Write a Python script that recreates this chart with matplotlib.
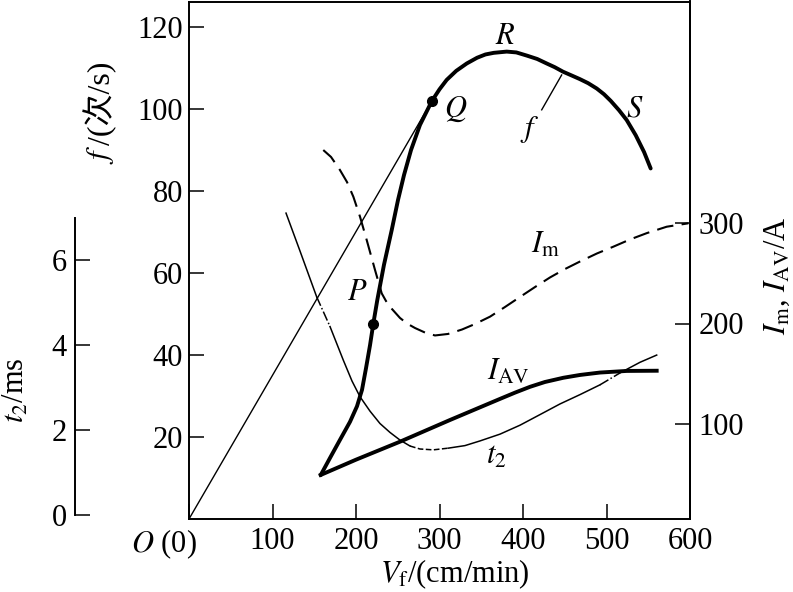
import matplotlib
matplotlib.use('Agg')
import matplotlib.pyplot as plt

# ---------------- data ----------------
# f curve (left axis, f / (次/s)) versus V_f (cm/min)
f_x = [157.7, 168.9, 180.8, 192.8, 201.2, 207.2, 212.0, 216.8, 220.7, 225.5, 233.5,
       242.8, 250.3, 257.5, 265.9, 276.6, 291.0, 300.0, 308.6, 320.0, 332.6, 345.0,
       355.0, 365.0, 380.5, 392.0, 405.0, 417.0, 428.4, 438.0, 447.9, 458.0, 468.0,
       478.0, 488.3, 497.0, 505.0, 515.0, 524.2, 535.0, 545.0, 552.9]
f_y = [10.7, 14.9, 19.3, 23.7, 27.5, 31.5, 36.8, 42.4, 47.6, 53.4, 62.0,
       70.5, 77.8, 83.9, 90.0, 96.1, 102.0, 104.8, 107.1, 109.3, 111.1, 112.5,
       113.3, 113.7, 114.0, 113.8, 113.0, 112.2, 111.1, 110.2, 109.1, 108.2, 107.3,
       106.3, 105.0, 103.6, 102.0, 99.7, 97.3, 93.6, 89.5, 85.5]

# marked points P and Q on the f curve
P_x, P_y = 220.7, 47.6
Q_x, Q_y = 291.0, 102.0

# straight line from origin O to Q
chord_x = [0, 291.0]
chord_y = [0, 102.0]

# I_AV (right axis, A)
iav_x = [157.7, 200.0, 252.7, 312.6, 372.5, 390.4, 408.4, 426.3, 448.3, 468.3,
         492.2, 524.2, 560.1]
iav_y = [49.3, 64.5, 82.4, 104.0, 125.0, 131.2, 137.0, 141.8, 146.0, 148.8,
         151.2, 152.8, 153.0]

# I_m (right axis, A), dashed
im_x = [160.8, 170.1, 180.8, 189.2, 196.8, 204.8, 212.8, 222.8, 230.8, 235.9, 243.1,
        252.7, 261.1, 270.7, 282.6, 294.6, 310.2, 326.9, 342.5, 360.5, 378.4, 396.4,
        414.4, 432.3, 450.3, 468.3, 488.6, 508.1, 528.1, 548.5, 572.1, 598.0]
im_y = [372.6, 365.7, 352.7, 340.8, 326.2, 306.3, 283.1, 253.2, 230.0, 222.4, 214.4,
        205.5, 200.0, 195.5, 191.0, 188.1, 189.6, 194.0, 199.5, 206.8, 216.4, 226.4,
        236.3, 245.8, 254.2, 261.7, 269.7, 276.4, 283.6, 290.0, 296.3, 299.7]

# t2 (outer left axis, ms)
t2_x = [116.2, 132.9, 152.9, 168.9, 184.8, 195.2, 204.8, 216.8, 228.7, 240.7, 252.7,
        264.7, 276.6, 292.6, 310.5, 330.5, 348.5, 372.5, 396.4, 420.4, 444.3, 468.3,
        492.2, 516.2, 540.1, 560.1]
t2_y = [7.11, 6.22, 5.14, 4.44, 3.65, 3.16, 2.79, 2.45, 2.16, 1.95, 1.77,
        1.63, 1.56, 1.54, 1.58, 1.64, 1.75, 1.91, 2.12, 2.37, 2.62, 2.84,
        3.07, 3.35, 3.60, 3.77]
# line-style pieces of the t2 curve (index ranges, inclusive)
t2_pieces = [(0, 2, '-'), (2, 3, '-.'), (3, 11, '-'), (11, 14, '--'),
             (14, 22, '-'), (22, 23, '-.'), (23, 25, '-')]

x_ticks = [0, 100, 200, 300, 400, 500, 600]
x_ticklabels = ['', '100', '200', '300', '400', '500', '600']
f_ticks = [20, 40, 60, 80, 100, 120]
i_ticks = [100, 200, 300]
t2_ticks = [0, 2, 4, 6]

# ---------------- style ----------------
plt.rcParams['font.family'] = ['Liberation Serif', 'Noto Sans CJK SC']
plt.rcParams['mathtext.fontset'] = 'stix'
FS = 22
W, H = 793, 592

fig = plt.figure(figsize=(W / 100, H / 100), dpi=100)
ax = fig.add_axes([189 / W, (H - 519) / H, 501 / W, 517.5 / H])
ax.set_xlim(0, 600)
ax.set_ylim(0, 517.5 / 4.1)

ax2 = ax.twinx()
ax2.set_ylim((524.5 - 519) / 1.005, (524.5 - 1.5) / 1.005)
ax3 = ax.twinx()
ax3.set_ylim((515.3 - 519) / 42.5, (515.3 - 1.5) / 42.5)

for s in ax.spines.values():
    s.set_linewidth(1.4)
for s in ['top', 'bottom', 'left']:
    ax2.spines[s].set_visible(False)
ax2.spines['right'].set_linewidth(1.4)
for s in ['top', 'bottom', 'right']:
    ax3.spines[s].set_visible(False)
ax3.spines['left'].set_visible(True)
ax3.spines['left'].set_linewidth(1.4)
ax3.spines['left'].set_position(('axes', (75 - 189) / 501))
ax3.spines['left'].set_bounds(0, 7)

TL = 11
ax.set_xticks(x_ticks)
ax.set_xticklabels(x_ticklabels)
ax.set_yticks(f_ticks)
ax.tick_params(axis='both', direction='in', length=TL, width=1.1, labelsize=FS)
ax.tick_params(axis='x', pad=6)
ax.tick_params(axis='y', pad=4.5)

ax2.set_yticks(i_ticks)
ax2.tick_params(axis='y', direction='in', length=TL, width=1.1, labelsize=FS, pad=6)

ax3.yaxis.set_ticks_position('left')
ax3.yaxis.set_label_position('left')
ax3.set_yticks(t2_ticks)
ax3.tick_params(axis='y', direction='in', length=TL, width=1.1, labelsize=FS, pad=6)

# ---------------- curves ----------------
ax.plot(chord_x, chord_y, color='k', lw=1.0)
ax.plot(f_x, f_y, color='k', lw=2.8, solid_joinstyle='round', solid_capstyle='round')
ax.plot([P_x, Q_x], [P_y, Q_y], 'o', color='k', ms=7)
ax2.plot(iav_x, iav_y, color='k', lw=2.8, solid_joinstyle='round')
ax2.plot(im_x, im_y, color='k', lw=1.5, linestyle=(0, (8, 4)))
for i0, i1, ls in t2_pieces:
    ax3.plot(t2_x[i0:i1 + 1], t2_y[i0:i1 + 1], color='k', lw=1.1, linestyle=ls)

# leader line for f label
ax.plot([422.4, 446.3], [99.8, 108.3], color='k', lw=1.0)

# ---------------- curve labels ----------------
kw = dict(fontsize=FS, ha='center', va='center')
ax.text(378.4, 117.6, '$R$', **kw)
ax.text(319.8, 99.9, '$Q$', **kw)
ax.text(408.4, 95.1, '$f$', **kw)
ax.text(534.1, 100.0, '$S$', **kw)
ax.text(201.8, 55.2, '$P$', **kw)
ax.text(427.5, 66.8, '$I_{\\mathrm{m}}$', **kw)
ax.text(382.0, 35.8, '$I_{\\mathrm{AV}}$', **kw)
ax.text(367.7, 15.4, '$t_2$', **kw)

# ---------------- axis labels ----------------
fig.text(197 / W, 1 - 527 / H, '$O$ (0)', fontsize=FS, ha='right', va='top')
fig.text(455 / W, 1 - 582 / H, '$V_{\\mathrm{f}}$/(cm/min)', fontsize=FS,
         ha='center', va='baseline')
fig.text(100 / W, 1 - 145 / H, '$f$', fontsize=FS, rotation=90, ha='center', va='top')
fig.text(100 / W, 1 - 145 / H, '/(次/s)', fontsize=FS + 1, rotation=90, ha='center',
         va='bottom', family=['Liberation Serif', 'Noto Sans CJK SC'])
fig.text(16 / W, 1 - 390 / H, '$t_2$/ms', fontsize=FS, rotation=90,
         ha='center', va='center')
fig.text(777 / W, 1 - 276 / H, '$I_{\\mathrm{m}}$, $I_{\\mathrm{AV}}$/A', fontsize=FS,
         rotation=90, ha='center', va='center')

fig.savefig('out.png', dpi=100, facecolor='white')
